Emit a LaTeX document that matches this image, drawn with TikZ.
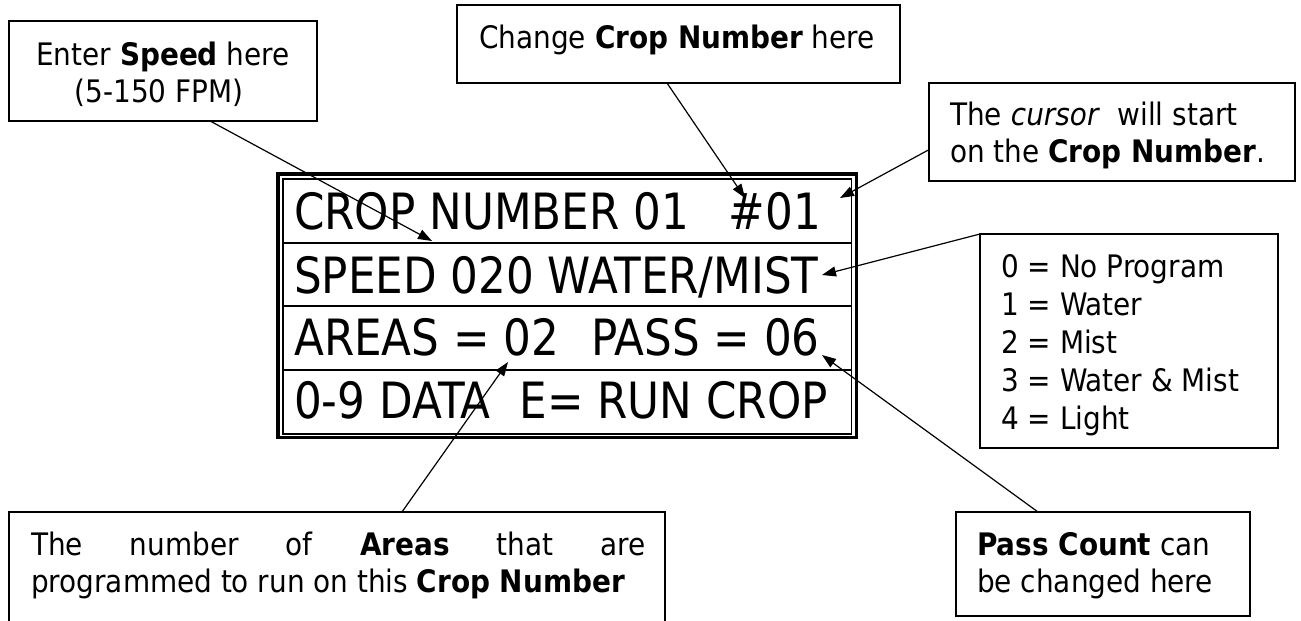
\documentclass[tikz,border=0pt]{standalone}
\usepackage{fontspec}
\setmainfont{DejaVu Sans Condensed}
\newfontfamily\lcdfont[FakeStretch=0.97]{DejaVu Sans Condensed}
\usetikzlibrary{arrows.meta,calc}
\tikzset{
  txt/.style={inner sep=0pt, font=\fontsize{31}{37}\selectfont},
  lcdtxt/.style={inner sep=0pt, font=\lcdfont\fontsize{50}{55}\selectfont},
  callbox/.style={draw, line width=1.4pt, inner sep=0pt, outer sep=0pt, anchor=north west},
  conn/.style={line width=1.2pt, -{Triangle[length=14pt,width=10pt]}},
}
\begin{document}
\begin{tikzpicture}[x=1pt,y=-1pt]
\useasboundingbox (0,0) rectangle (1301,621);
\fill[white] (0,0) rectangle (1301,621);
\clip (0,0) rectangle (1301,621);

% ---- LCD display ----
\node[draw, line width=3.5pt, inner sep=0pt, outer sep=0pt, anchor=north west,
      minimum width=578.5pt, minimum height=263.5pt] (lcd) at (277.75,173.75) {};
\node[draw, line width=1.5pt, inner sep=0pt, outer sep=0pt, anchor=north west,
      minimum width=568.5pt, minimum height=255pt] (lcdin) at (282.75,178.75) {};
\draw[line width=1.5pt] (lcdin.west |- 0,243) -- (lcdin.east |- 0,243);
\draw[line width=1.5pt] (lcdin.west |- 0,306) -- (lcdin.east |- 0,306);
\draw[line width=1.5pt] (lcdin.west |- 0,370) -- (lcdin.east |- 0,370);

\node[lcdtxt, anchor=base west] (r1a) at (294,229) {CROP NUMBER 01};
\node[lcdtxt, anchor=base east] (r1b) at (821,229) {\#01};
\node[lcdtxt, anchor=base west] (r2) at (294,293) {SPEED 020 WATER/MIST};
\node[lcdtxt, anchor=base west] (r3a) at (294,355) {AREAS = 02};
\node[lcdtxt, anchor=base east] (r3b) at (820,355) {PASS = 06};
\node[lcdtxt, anchor=base west] (r4a) at (294,418) {0-9 DATA};
\node[lcdtxt, anchor=base east] (r4b) at (828,418) {E= RUN CROP};

% ---- callout boxes ----
\node[callbox, minimum width=308pt, minimum height=100pt] (speedbox) at (9,21) {};
\node[txt, anchor=base] (speedA) at (163,65) {Enter \textbf{Speed} here};
\node[txt, anchor=base] (speedB) at (159,102) {(5-150 FPM)};

\node[callbox, minimum width=443pt, minimum height=78pt] (cropbox) at (457,5) {};
\node[txt, anchor=base] (cropA) at (677,48) {Change \textbf{Crop Number} here};

\node[callbox, minimum width=366pt, minimum height=98pt] (cursorbox) at (929,83) {};
\node[txt, anchor=base west] (cursorA) at (950,125) {The \textit{cursor}\ \ will start};
\node[txt, anchor=base west] (cursorB) at (950,162) {on the \textbf{Crop Number}.};

\node[callbox, minimum width=298pt, minimum height=214pt] (legend) at (980,234) {};
\node[txt, anchor=base west] (lg0) at (1001,277) {0 = No Program};
\node[txt, anchor=base west] (lg1) at (1001,315) {1 = Water};
\node[txt, anchor=base west] (lg2) at (1001,353) {2 = Mist};
\node[txt, anchor=base west] (lg3) at (1001,391) {3 = Water \& Mist};
\node[txt, anchor=base west] (lg4) at (1001,429) {4 = Light};

\node[callbox, minimum width=294pt, minimum height=104pt] (passbox) at (956,512) {};
\node[txt, anchor=base west] (passA) at (977,555) {\textbf{Pass Count} can};
\node[txt, anchor=base west] (passB) at (977,592) {be changed here};

\node[callbox, minimum width=656pt, minimum height=140pt] (areasbox) at (9,512) {};
\node[txt, anchor=base west] (areasA) at (31,555) {\makebox[614pt][s]{The number of \textbf{Areas} that are}};
\node[txt, anchor=base west] (areasB) at (31,592) {programmed to run on this \textbf{Crop Number}};

% ---- arrow targets ----
\coordinate (tSpeed) at (432,241);
\coordinate (tCrop) at (745,198);
\coordinate (tCursor) at (840,198);
\coordinate (tMode) at (822,275);
\coordinate (tAreas) at (508,362);
\coordinate (tPass) at (822,355);

% ---- connectors ----
\draw[conn] ($(speedbox.south west)!0.653!(speedbox.south east)$) -- (tSpeed);
\draw[conn] ($(cropbox.south west)!0.474!(cropbox.south east)$) -- (tCrop);
\draw[conn] ($(cursorbox.north west)!0.68!(cursorbox.south west)$) -- (tCursor);
\draw[conn] (legend.north west) -- (tMode);
\draw[conn] ($(areasbox.north west)!0.599!(areasbox.north east)$) -- (tAreas);
\draw[conn] ($(passbox.north west)!0.279!(passbox.north east)$) -- (tPass);
\end{tikzpicture}
\end{document}
